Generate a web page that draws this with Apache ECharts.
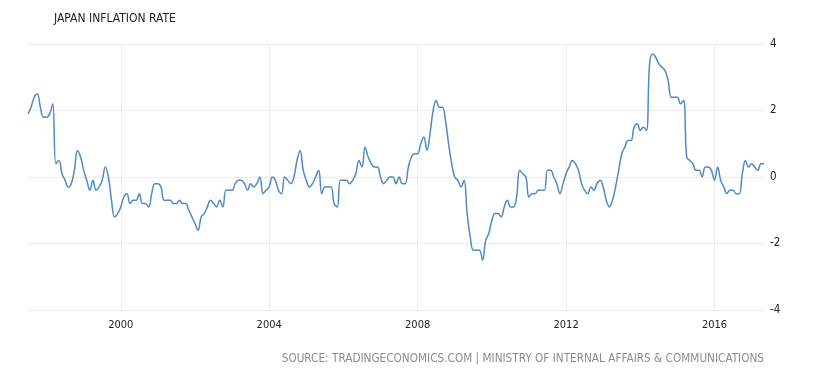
<!DOCTYPE html>
<html>
<head>
<meta charset="utf-8">
<title>Japan Inflation Rate</title>
<script src="https://cdn.jsdelivr.net/npm/echarts@6.0.0/dist/echarts.min.js"></script>
<style>
  html, body { margin: 0; padding: 0; background: #fff; }
  #main { width: 840px; height: 376px; }
</style>
</head>
<body>
<div id="main"></div>
<script>
// monthly data, Jul 1997 .. May 2017
var startYear = 1997;
var startMonth = 7;
var inflation = [
  // 1997 Jul-Dec
  1.9, 2.1, 2.4, 2.5, 2.1, 1.8,
  // 1998
  1.8, 1.9, 2.2, 0.4, 0.5, 0.1, -0.1, -0.3, -0.2, 0.2, 0.8, 0.6,
  // 1999
  0.2, -0.1, -0.4, -0.1, -0.4, -0.3, -0.1, 0.3, 0.0, -0.7, -1.2, -1.1,
  // 2000
  -0.9, -0.6, -0.5, -0.8, -0.7, -0.7, -0.5, -0.8, -0.8, -0.9, -0.5, -0.2,
  // 2001
  -0.2, -0.3, -0.7, -0.7, -0.7, -0.8, -0.8, -0.7, -0.8, -0.8, -1.0, -1.2,
  // 2002
  -1.4, -1.6, -1.2, -1.1, -0.9, -0.7, -0.8, -0.9, -0.7, -0.9, -0.4, -0.4,
  // 2003
  -0.4, -0.2, -0.1, -0.1, -0.2, -0.4, -0.2, -0.3, -0.2, 0.0, -0.5, -0.4,
  // 2004
  -0.3, 0.0, -0.1, -0.4, -0.5, 0.0, -0.1, -0.2, 0.0, 0.5, 0.8, 0.2,
  // 2005
  -0.1, -0.3, -0.2, 0.0, 0.2, -0.5, -0.3, -0.3, -0.3, -0.8, -0.9, -0.1,
  // 2006
  -0.1, -0.1, -0.2, -0.1, 0.1, 0.5, 0.3, 0.9, 0.6, 0.4, 0.3, 0.3,
  // 2007
  0.0, -0.2, -0.1, 0.0, 0.0, -0.2, 0.0, -0.2, -0.2, 0.3, 0.6, 0.7,
  // 2008
  0.7, 1.0, 1.2, 0.8, 1.3, 2.0, 2.3, 2.1, 2.1, 1.7, 1.0, 0.4,
  // 2009
  0.0, -0.1, -0.3, -0.1, -1.1, -1.8, -2.2, -2.2, -2.2, -2.5, -1.9, -1.7,
  // 2010
  -1.3, -1.1, -1.1, -1.2, -0.9, -0.7, -0.9, -0.9, -0.6, 0.2, 0.1, 0.0,
  // 2011
  -0.6, -0.5, -0.5, -0.4, -0.4, -0.4, 0.2, 0.2, 0.0, -0.2, -0.5, -0.2,
  // 2012
  0.1, 0.3, 0.5, 0.4, 0.2, -0.2, -0.4, -0.5, -0.3, -0.4, -0.2, -0.1,
  // 2013
  -0.3, -0.7, -0.9, -0.7, -0.3, 0.2, 0.7, 0.9, 1.1, 1.1, 1.5, 1.6,
  // 2014
  1.4, 1.5, 1.4, 3.4, 3.7, 3.6, 3.4, 3.3, 3.2, 2.9, 2.4, 2.4,
  // 2015
  2.4, 2.2, 2.3, 0.6, 0.5, 0.4, 0.2, 0.2, 0.0, 0.3, 0.3, 0.2,
  // 2016
  -0.1, 0.3, -0.1, -0.3, -0.5, -0.4, -0.4, -0.5, -0.5, 0.1, 0.5, 0.3,
  // 2017 Jan-May
  0.4, 0.3, 0.2, 0.4, 0.4
];
var yearTicks = ['2000', '2004', '2008', '2012', '2016'];
var yTicks = [-4, -2, 0, 2, 4];

var months = [];
for (var i = 0; i < inflation.length; i++) {
  var m = startMonth - 1 + i;
  var y = startYear + Math.floor(m / 12);
  var mm = (m % 12) + 1;
  months.push(y + '-' + (mm < 10 ? '0' + mm : mm));
}

function isTick(index, value) {
  var parts = value.split('-');
  return parts[1] === '01' && yearTicks.indexOf(parts[0]) >= 0;
}

var chart = echarts.init(document.getElementById('main'), null, { renderer: 'canvas' });

var option = {
  animation: false,
  backgroundColor: '#fff',
  title: [
    {
      text: 'JAPAN INFLATION RATE',
      left: 49,
      top: 8,
      textStyle: {
        fontFamily: 'DejaVu Sans Condensed, DejaVu Sans',
        fontSize: 12,
        fontWeight: 'normal',
        color: '#222'
      }
    },
    {
      text: 'SOURCE: TRADINGECONOMICS.COM | MINISTRY OF INTERNAL AFFAIRS & COMMUNICATIONS',
      right: 71,
      top: 348,
      textStyle: {
        fontFamily: 'DejaVu Sans Condensed, DejaVu Sans',
        fontSize: 11.7,
        fontWeight: 'normal',
        color: '#8c8c8c'
      }
    }
  ],
  grid: {
    left: 28,
    right: 76,
    top: 44,
    bottom: 66
  },
  xAxis: {
    type: 'category',
    boundaryGap: false,
    data: months,
    axisLine: { show: false },
    axisTick: { show: false },
    axisLabel: {
      interval: isTick,
      formatter: function (v) { return v.split('-')[0]; },
      fontFamily: 'DejaVu Sans Condensed, DejaVu Sans',
      fontSize: 11,
      color: '#222',
      margin: 10
    },
    splitLine: {
      show: true,
      interval: isTick,
      lineStyle: { color: '#ececec', width: 1 }
    }
  },
  yAxis: {
    type: 'value',
    position: 'right',
    min: yTicks[0],
    max: yTicks[yTicks.length - 1],
    interval: 2,
    axisLine: { show: false },
    axisTick: { show: false },
    axisLabel: {
      fontFamily: 'DejaVu Sans Condensed, DejaVu Sans',
      fontSize: 11.5,
      color: '#222',
      margin: 6
    },
    splitLine: {
      lineStyle: { color: '#ececec', width: 1 }
    }
  },
  series: [
    {
      name: 'Inflation',
      type: 'line',
      data: inflation,
      smooth: 0.4,
      showSymbol: false,
      lineStyle: { color: '#5089c4', width: 1.5 }
    }
  ]
};

chart.setOption(option);
</script>
</body>
</html>
